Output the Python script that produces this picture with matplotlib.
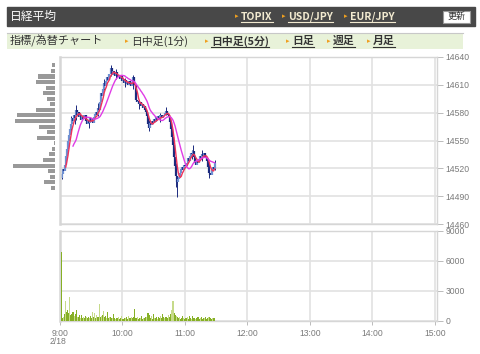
import matplotlib
matplotlib.use("Agg")
import matplotlib.pyplot as plt
from matplotlib.patches import Rectangle
import pandas as pd

plt.rcParams["font.family"] = ["Noto Sans CJK JP", "DejaVu Sans"]

# ---- data ----------------------------------------------------------------------------

first_open = 14510
closes = [
    14514, 14519, 14517, 14524, 14533, 14541, 14549, 14556, 14562, 14568,
    14574, 14571, 14577, 14574, 14583, 14578, 14581, 14575, 14578, 14572,
    14576, 14573, 14577, 14571, 14568, 14572, 14569, 14574, 14570, 14573,
    14569, 14575, 14579, 14581, 14578, 14585, 14583, 14592, 14601, 14598,
    14606, 14612, 14609, 14614, 14618, 14615, 14622, 14628, 14621, 14625,
    14623, 14619, 14624, 14620, 14618, 14621, 14616, 14619, 14614, 14616,
    14612, 14615, 14611, 14613, 14610, 14614, 14611, 14609, 14613, 14618,
    14610, 14594, 14591, 14593, 14589, 14591, 14587, 14589, 14585, 14587,
    14583, 14581, 14576, 14568, 14564, 14569, 14567, 14571, 14569, 14573,
    14570, 14575, 14572, 14576, 14573, 14577, 14574, 14576, 14578, 14580,
    14582, 14579, 14577, 14575, 14570, 14562, 14554, 14545, 14532, 14522,
    14512, 14505, 14508, 14511, 14515, 14519, 14521, 14518, 14524, 14522,
    14526, 14531, 14528, 14533, 14537, 14535, 14539, 14532, 14526, 14524,
    14528, 14526, 14530, 14533, 14531, 14535, 14533, 14536, 14532, 14531,
    14528, 14521, 14515, 14513, 14518, 14521, 14519, 14526,
]
# notable wicks (minute index, low, high)
wick_idx = [0, 5, 9, 13, 14, 26, 35, 41, 47, 52, 61, 69, 74, 83, 84, 95, 100, 110, 111, 125, 126, 135, 142, 147]
wick_low = [14508, 14536, 14560, 14568, 14572, 14564, 14576, 14604, 14619, 14616, 14608, 14606, 14584, 14566, 14560, 14570, 14577, 14500, 14489, 14530, 14533, 14528, 14510, 14518]
wick_high = [14518, 14546, 14576, 14580, 14588, 14575, 14590, 14616, 14631, 14627, 14617, 14621, 14594, 14578, 14572, 14580, 14586, 14526, 14512, 14540, 14545, 14540, 14526, 14529]

volumes = [
    6900, 300, 450, 700, 2000, 950, 1100, 800, 2450, 600,
    700, 900, 500, 750, 1100, 450, 400, 650, 350, 600,
    300, 450, 350, 500, 400, 300, 450, 350, 500, 300,
    950, 400, 800, 350, 600, 400, 1700, 450, 500, 600,
    1000, 400, 500, 300, 900, 350, 450, 400, 300, 350,
    700, 300, 250, 350, 300, 400, 250, 300, 500, 250,
    350, 300, 400, 250, 500, 300, 350, 450, 300, 400,
    1200, 350, 300, 400, 250, 350, 300, 500, 250, 350,
    300, 450, 400, 800, 600, 300, 500, 250, 700, 350,
    300, 450, 250, 400, 300, 500, 350, 700, 400, 300,
    450, 450, 300, 600, 400, 700, 1100, 2050, 800, 600,
    500, 450, 300, 400, 250, 350, 500, 300, 250, 350,
    300, 450, 250, 550, 300, 250, 500, 300, 350, 250,
    300, 450, 250, 350, 430, 250, 350, 300, 400, 250,
    300, 450, 400, 300, 250, 300, 350, 350,
]
vol_light = [2, 4, 8, 12, 15, 18, 21, 24, 27, 30, 32, 34, 36, 38, 40, 43, 46, 49, 52, 55,
             58, 61, 64, 67, 73, 76, 79, 82, 86, 89, 92, 95, 99, 103, 106, 107, 110, 113,
             117, 121, 125, 129, 133, 137, 141, 145]

profile_price = [14631, 14625, 14619, 14613, 14607, 14601, 14595, 14589, 14583, 14577, 14571, 14565,
                 14559, 14553, 14547, 14541, 14535, 14529, 14523, 14517, 14511, 14505, 14499]
profile_len = [3, 4, 17, 19, 9, 12, 8, 5, 19, 38, 40, 16, 8, 18, 1, 3, 6, 12, 42, 7, 5, 11, 4]

price_ticks = [14460, 14490, 14520, 14550, 14580, 14610, 14640]
vol_ticks = [0, 3000, 6000, 9000]
hour_minutes = [0, 60, 120, 180, 240, 300, 360]
hour_labels = ["9:00", "10:00", "11:00", "12:00", "13:00", "14:00", "15:00"]

# ---- style ---------------------------------------------------------------------------

W, H = 480, 354
GRID = "#e2e2e2"
TICK = "#7a7a7a"
UP, DOWN = "#6e90d2", "#1b2a7e"
ORANGE = "#f0a020"


def _frame(ax):
    for s in ax.spines.values():
        s.set_color("#d6d6d6")
        s.set_linewidth(1.0)
    ax.spines["left"].set_linewidth(1.8)
    ax.grid(True, color=GRID, lw=1.2)
    ax.set_axisbelow(True)
    ax.yaxis.tick_right()
    ax.tick_params(axis="y", length=4, width=0.7, color="#bbbbbb", pad=2,
                   labelsize=6.2, labelcolor=TICK)
    for lab in ax.get_yticklabels():
        lab.set_family("Liberation Sans")


def _box(px, py, pw, ph):
    return [px / W, 1 - (py + ph) / H, pw / W, ph / H]


fig = plt.figure(figsize=(W / 100, H / 100), dpi=100)

# ---- header (pixel coords) ------------------------------------------------------------
hd = fig.add_axes([0, 0, 1, 1])
hd.set_xlim(0, W)
hd.set_ylim(H, 0)
hd.axis("off")
hd.add_patch(Rectangle((7, 7), 468, 19, color="#484848"))
hd.add_patch(Rectangle((7, 33), 456, 16, facecolor="#e8f2d9", edgecolor="none"))
hd.plot([7, 463], [32.5, 32.5], color="#c8c8c8", lw=0.8)
hd.text(10, 16.5, "日経平均", color="white", fontsize=8.5, va="center")
hd.add_patch(Rectangle((443, 10.5), 27, 12, facecolor="white", edgecolor="#999999", lw=0.8))
hd.text(456.5, 16.5, "更新", color="#333333", fontsize=6.5, va="center", ha="center")
hd.text(10, 41, "指標/為替チャート", color="#333333", fontsize=8, va="center")

renderer = fig.canvas.get_renderer()


def _link(x, y, s, color, size, bold=True, underline=True):
    hd.text(x - 6, y, "▸", color=ORANGE, fontsize=5, va="center", family="DejaVu Sans")
    t = hd.text(x, y, s, color=color, fontsize=size, va="center",
                fontweight="bold" if bold else "normal")
    if underline:
        bb = t.get_window_extent(renderer).transformed(hd.transData.inverted())
        hd.plot([bb.x0, bb.x1], [y + 5.5, y + 5.5], color=color, lw=0.8)


_link(241, 16.5, "TOPIX", "#f2ead0", 7.5)
_link(288, 16.5, "USD/JPY", "#f2ead0", 7.5)
_link(350, 16.5, "EUR/JPY", "#f2ead0", 7.5)
_link(131, 41, "日中足(1分)", "#333333", 7.8, bold=False, underline=False)
_link(211, 41, "日中足(5分)", "#333333", 7.8)
_link(292, 41, "日足", "#333333", 7.8)
_link(333, 41, "週足", "#333333", 7.8)
_link(373, 41, "月足", "#333333", 7.8)

# ---- price panel ---------------------------------------------------------------------
ax = fig.add_axes(_box(60, 57, 377, 167))
x = [i + 1.5 for i in range(len(closes))]
opens = [first_open] + closes[:-1]
lo = [min(o, c) for o, c in zip(opens, closes)]
hi = [max(o, c) for o, c in zip(opens, closes)]
cols = [UP if c >= o else DOWN for o, c in zip(opens, closes)]
ax.vlines([x[i] for i in wick_idx], wick_low, wick_high, colors=DOWN, lw=0.7)
ax.vlines(x, lo, hi, colors=cols, lw=1.6)
s = pd.Series(closes, index=x)
ax.plot(s.rolling(5).mean(), color="#f0325a", lw=1.0)
ax.plot(s.rolling(15, min_periods=12).mean(), color="#e03ce6", lw=1.0)
ax.set_xlim(0, 362)
ax.set_ylim(14460, 14640)
ax.set_xticks(hour_minutes)
ax.set_xticklabels([])
ax.tick_params(axis="x", length=0)
ax.set_yticks(price_ticks)
_frame(ax)

# volume-at-price profile in the left margin
pf = fig.add_axes(_box(0, 57, 55, 167))
pf.barh(profile_price, profile_len, height=4.4, color="#999999")
pf.set_xlim(55, 0)
pf.set_ylim(14460, 14640)
pf.axis("off")

# ---- volume panel --------------------------------------------------------------------
av = fig.add_axes(_box(60, 231, 377, 90))
vcols = ["#c6da8a" if i in vol_light else "#86b026" for i in range(len(volumes))]
av.bar(x, volumes, width=1.0, color=vcols, zorder=3, antialiased=False)
av.set_xlim(0, 362)
av.set_ylim(0, 9000)
av.set_yticks(vol_ticks)
av.set_xticks(hour_minutes)
av.set_xticklabels(hour_labels)
av.tick_params(axis="x", length=3, width=0.7, color="#bbbbbb", pad=3,
               labelsize=6.2, labelcolor=TICK)
for lab in av.get_xticklabels():
    lab.set_family("Liberation Sans")
_frame(av)
hd.text(58, 342, "2/18", color=TICK, fontsize=6.2, ha="center", va="center",
        family="Liberation Sans")

fig.savefig("out.png", dpi=100)
